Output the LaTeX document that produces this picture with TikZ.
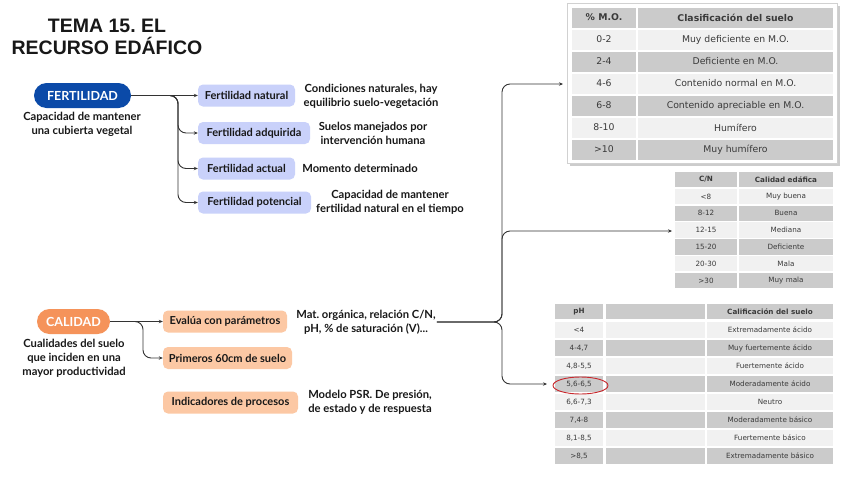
\documentclass[tikz,border=0pt]{standalone}
\usepackage{fontspec}
\setmainfont{Lato}
\newfontfamily\titlefont{Liberation Sans}
\newfontfamily\tabfont{DejaVu Sans}
\usetikzlibrary{arrows.meta,shapes.geometric}
\frenchspacing
\definecolor{fblue}{HTML}{0B4AA8}
\definecolor{lav}{HTML}{C9D1FA}
\definecolor{corange}{HTML}{F5935A}
\definecolor{lorange}{HTML}{FCC8A4}
\definecolor{ink}{HTML}{181818}
\definecolor{lineink}{HTML}{333333}
\definecolor{cgray}{HTML}{CBCBCB}
\definecolor{clight}{HTML}{F1F1F1}
\definecolor{ctext}{HTML}{3A3A3A}
\definecolor{ringred}{HTML}{C8282D}
\tikzset{
  pill/.style={rounded corners=12.5pt, minimum height=25, inner sep=0, text=white, font=\fontsize{12.5}{14}\selectfont\bfseries},
  subbox/.style={rounded corners=5pt, minimum height=22, inner sep=0, text=ink, font=\fontsize{11}{13}\selectfont\bfseries},
  desc/.style={align=center, inner sep=1, text=ink, font=\fontsize{11.2}{14}\selectfont\bfseries},
  conn/.style={draw=lineink, line width=0.9pt, rounded corners=8pt, -{Stealth[length=4pt,width=3.4pt]}},
  bigcell/.style={inner sep=0, minimum height=20, text=ctext, font=\tabfont\fontsize{9.3}{11}\selectfont},
  smallcell/.style={inner sep=0, text=ctext, font=\tabfont\fontsize{7.2}{9}\selectfont},
}
\begin{document}
\begin{tikzpicture}[x=1pt,y=-1pt]
\useasboundingbox[fill=white] (0,0) rectangle (848,477);

% title
\node[anchor=base, text=ink, font=\titlefont\fontsize{19.5}{22}\selectfont\bfseries] (title1) at (107,32) {TEMA 15. EL};
\node[anchor=base, text=ink, font=\titlefont\fontsize{19.5}{22}\selectfont\bfseries] (title2) at (107,54) {RECURSO EDÁFICO};

% fertilidad
\node[pill, fill=fblue, minimum width=97] (fert) at (82.5,95.5) {FERTILIDAD};
\node[desc] (fertd) at (82,124) {Capacidad de mantener\\una cubierta vegetal};
\node[subbox, fill=lav, minimum width=97] (nat) at (246.5,95.5) {Fertilidad natural};
\node[subbox, fill=lav, minimum width=112] (adq) at (254,133) {Fertilidad adquirida};
\node[subbox, fill=lav, minimum width=97] (act) at (246.5,168.5) {Fertilidad actual};
\node[subbox, fill=lav, minimum width=113] (pot) at (254.5,202.5) {Fertilidad potencial};
\node[desc] (natd) at (371,96) {Condiciones naturales, hay\\equilibrio suelo-vegetación};
\node[desc] (adqd) at (373,133.5) {Suelos manejados por\\intervención humana};
\node[desc] (actd) at (360,168.5) {Momento determinado};
\node[desc] (potd) at (390,202.5) {Capacidad de mantener\\fertilidad natural en el tiempo};

\draw[conn] (fert.east) -- (nat.west);
\draw[conn] (fert.east) -- (178,95.5) |- (adq.west);
\draw[conn] (fert.east) -- (178,95.5) |- (act.west);
\draw[conn] (fert.east) -- (178,95.5) |- (pot.west);

% calidad
\node[pill, fill=corange, minimum width=73] (cal) at (73.5,321.5) {CALIDAD};
\node[desc] (cald) at (74,358) {Cualidades del suelo\\que inciden en una\\mayor productividad};
\node[subbox, fill=lorange, minimum width=124] (eval) at (225,321.5) {Evalúa con parámetros};
\node[subbox, fill=lorange, minimum width=129] (prim) at (227.5,358) {Primeros 60cm de suelo};
\node[subbox, fill=lorange, minimum width=135] (ind) at (230.5,402.5) {Indicadores de procesos};
\node[desc] (mat) at (366,322) {Mat. orgánica, relación C/N,\\pH, \% de saturación (V)...};
\node[desc] (psr) at (370,402.5) {Modelo PSR. De presión,\\de estado y de respuesta};

\draw[conn] (cal.east) -- (eval.west);
\draw[conn] (cal.east) -- (143,321.5) |- (prim.west);

% table 1: materia organica
\fill[black!20] (569.5,5.5) rectangle (839.5,165.5);
\filldraw[fill=white, draw=black!18] (567,3) rectangle (837,163);
\node[bigcell, fill=cgray, minimum width=64, font=\tabfont\fontsize{9.3}{11}\selectfont\bfseries] (moh1) at (604,17.5) {\% M.O.};
\node[bigcell, fill=cgray, minimum width=195, font=\tabfont\fontsize{9.3}{11}\selectfont\bfseries] (moh2) at (735.5,17.5) {Clasificación del suelo};
\foreach \i/\a/\b/\c in {0/0-2/Muy deficiente en M.O./clight, 1/2-4/Deficiente en M.O./cgray, 2/4-6/Contenido normal en M.O./clight, 3/6-8/Contenido apreciable en M.O./cgray, 4/8-10/Humífero/clight, 5/>10/Muy humífero/cgray}{
  \node[bigcell, fill=\c, minimum width=64] (moa\i) at (604,{39.5+22*\i}) {\a};
  \node[bigcell, fill=\c, minimum width=195] (mob\i) at (735.5,{39.5+22*\i}) {\b};
}
\coordinate (t1in) at (563,84);

% table 2: C/N
\node[smallcell, fill=cgray, minimum width=62, minimum height=15.5, font=\tabfont\fontsize{7.2}{9}\selectfont\bfseries] (cnh1) at (706,179.5) {C/N};
\node[smallcell, fill=cgray, minimum width=94, minimum height=15.5, font=\tabfont\fontsize{7.2}{9}\selectfont\bfseries] (cnh2) at (786,179.5) {Calidad edáfica};
\foreach \i/\a/\b/\c in {0/<8/Muy buena/clight, 1/8-12/Buena/cgray, 2/12-15/Mediana/clight, 3/15-20/Deficiente/cgray, 4/20-30/Mala/clight, 5/>30/Muy mala/cgray}{
  \node[smallcell, fill=\c, minimum width=62, minimum height=15.5] (cna\i) at (706,{196.5+16.8*\i}) {\a};
  \node[smallcell, fill=\c, minimum width=94, minimum height=15.5] (cnb\i) at (786,{196.5+16.8*\i}) {\b};
}
\coordinate (t2in) at (672,231);

% table 3: pH
\node[smallcell, fill=cgray, minimum width=48, minimum height=15, font=\tabfont\fontsize{7.2}{9}\selectfont\bfseries] (phh1) at (579,311.5) {pH};
\node[smallcell, fill=cgray, minimum width=99, minimum height=15] (phh2) at (655.5,311.5) {};
\node[smallcell, fill=cgray, minimum width=126, minimum height=15, font=\tabfont\fontsize{7.2}{9}\selectfont\bfseries] (phh3) at (770,311.5) {Calificación del suelo};
\foreach \i/\a/\b/\c in {0/<4/Extremadamente ácido/clight, 1/{4-4,7}/Muy fuertemente ácido/cgray, 2/{4,8-5,5}/Fuertemente ácido/clight, 3/{5,6-6,5}/Moderadamente ácido/cgray, 4/{6,6-7,3}/Neutro/clight, 5/{7,4-8}/Moderadamente básico/cgray, 6/{8,1-8,5}/Fuertemente básico/clight, 7/{>8,5}/Extremadamente básico/cgray}{
  \node[smallcell, fill=\c, minimum width=48, minimum height=16.5] (pha\i) at (579,{330+18*\i}) {\a};
  \node[smallcell, fill=\c, minimum width=99, minimum height=16.5] (phm\i) at (655.5,{330+18*\i}) {};
  \node[smallcell, fill=\c, minimum width=126, minimum height=16.5] (phb\i) at (770,{330+18*\i}) {\b};
}
\node[draw=ringred, line width=0.9pt, ellipse, minimum width=55, minimum height=17, inner sep=0] (ring) at (580.5,385.5) {};
\coordinate (t3in) at (547,384);

% right connectors
\draw[conn] (mat.east) -- (502,322) |- (t1in);
\draw[conn] (mat.east) -- (502,322) |- (t2in);
\draw[conn] (mat.east) -- (502,322) |- (t3in);
\end{tikzpicture}
\end{document}
